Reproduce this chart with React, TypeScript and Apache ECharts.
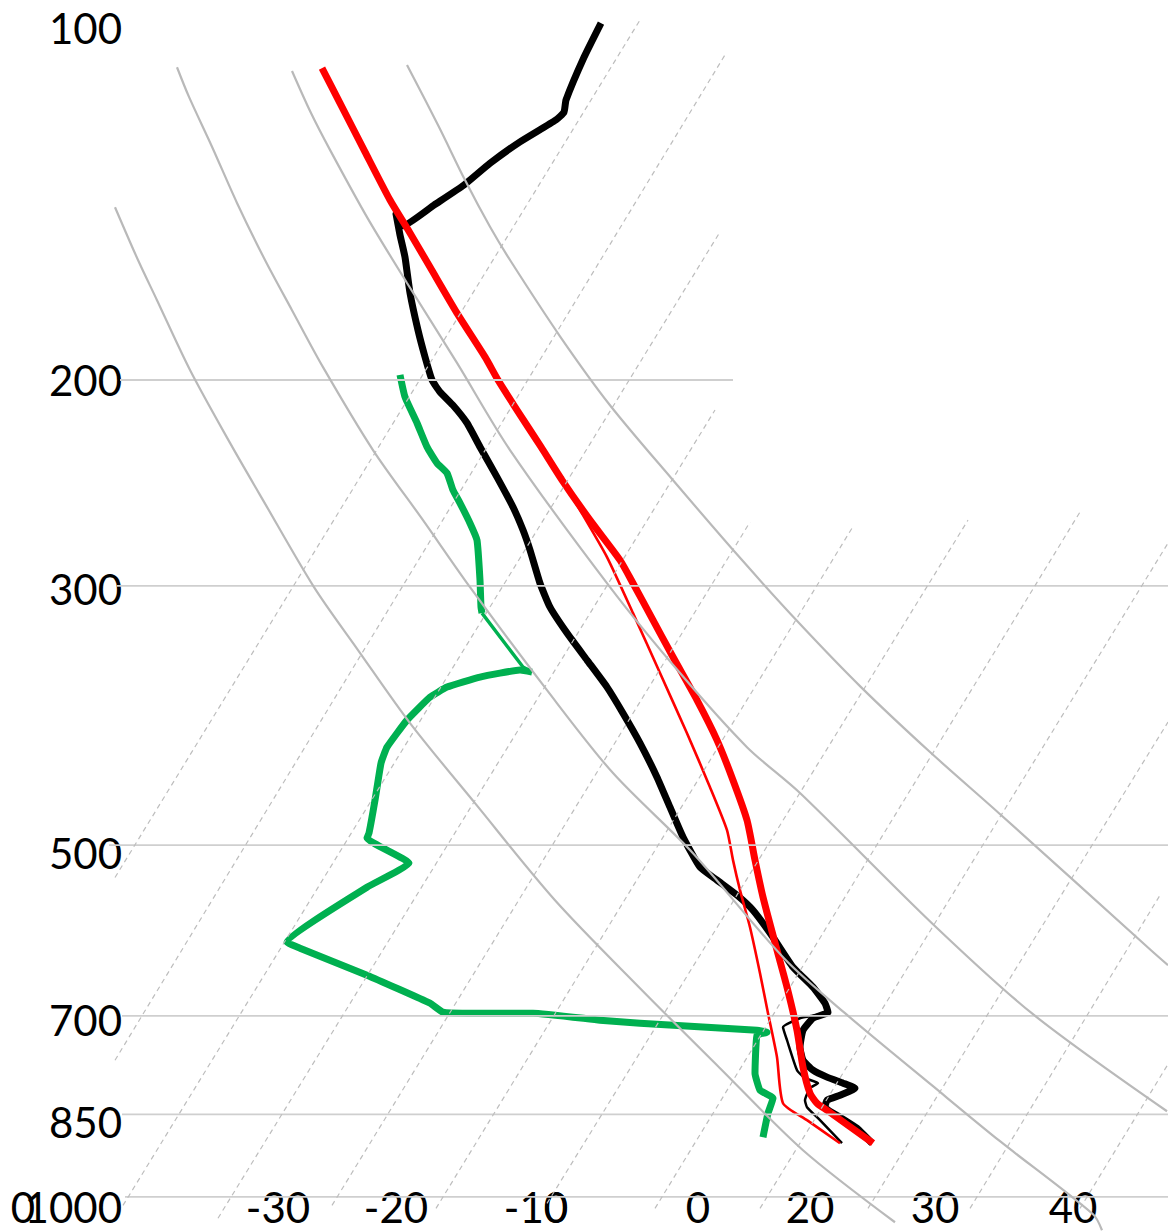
import React, { useEffect, useRef } from "react";
import * as echarts from "echarts";

// Skew-T style sounding diagram.
// x: skewed temperature index of the diagram, y: pressure in hPa (log scale, 100 at top).

type Pt = [number, number];

const pressureTicks = [100, 200, 300, 500, 700, 850, 1000];
// small downward nudges of the pressure labels (px)
const pressureLabelNudge = [0, 0, 3, 8, 4, 8, 10];
const skewTickPos = [-57.7, -32.2, -20.4, -6.4, -4.4, 9.8, 21.0, 33.5, 47.3];
const skewTickText = ["0", "-30", "-20", "-10", "0", "0", "20", "30", "40"];

// horizontal isobars and their extents
const isobarLevels = [200, 300, 500, 700, 850, 1000];
const isobarFrom = [-48, -48.3, -49.1, -47.8, -47.8, -47.5];
const isobarTo = [13.3, 56.8, 56.8, 56.8, 56.8, 56.8];

// isotherms (dashed), each from its lower to its upper end
const isotherms: Pt[][] = [
  [[-48.5, 533], [4.0, 98.4]],
  [[-48.5, 764], [12.5, 105.4]],
  [[-47.7, 1017], [12.0, 149.4]],
  [[-38.2, 1043], [11.5, 212.2]],
  [[-26.8, 1017], [15.0, 264.6]],
  [[-16.4, 1023], [25.2, 267.8]],
  [[-5.3, 1013], [36.8, 263.6]],
  [[5.5, 1023], [48.0, 259.4]],
  [[16.0, 1023], [56.8, 275.8]],
  [[26.8, 1023], [56.8, 392.4]],
  [[37.0, 1023], [56.0, 551.9]],
  [[48.0, 1023], [56.8, 770]],
];

// dry adiabats (solid grey curves)
const adiabatA: Pt[] = [
  [-48.5, 142.3], [-46.2, 157.9], [-44.3, 170.9], [-41.0, 196.1], [-37.0, 226.4],
  [-33.7, 253.4], [-28.6, 300.8], [-24.2, 340.5], [-19.0, 393.2], [-12.5, 460.4],
  [-4.5, 557.4], [4.0, 662.9], [12.0, 776.1], [20.3, 912.2], [29.5, 1051.3],
];
const adiabatB: Pt[] = [
  [-42.3, 108.0], [-41.1, 114.5], [-38.8, 126.3], [-36.3, 141.1], [-33.5, 157.9],
  [-30.8, 174.3], [-27.7, 195.0], [-22.7, 229.6], [-17.7, 263.6], [-13.0, 300.8],
  [-5.3, 368.5], [1.3, 433.9], [9.3, 508.1], [18.4, 624.9], [24.5, 696.4],
  [33.3, 804.1], [40.0, 896.2], [49.3, 1034.9], [50.2, 1068],
];
const adiabatC: Pt[] = [
  [-30.8, 108.8], [-28.9, 118.2], [-27.0, 127.1], [-23.3, 145.1], [-19.3, 165.2],
  [-14.3, 193.4], [-9.0, 229.6], [1.0, 300.8], [8.0, 356.3], [14.7, 412.3],
  [20.0, 451.3], [33.3, 584.4], [43.3, 697.8], [56.7, 844.8],
];
const adiabatD: Pt[] = [
  [-19.3, 107.5], [-16.1, 121.5], [-13.5, 134.9], [-11.0, 147.9], [-9.0, 157.9],
  [-4.0, 183.5], [1.0, 210.2], [7.2, 243.1], [14.2, 285.2], [20.0, 323.5],
  [26.1, 366.3], [33.0, 416.3], [39.9, 469.6], [55.1, 615.1], [56.8, 633.5],
];

// observed temperature profile (thick black)
const temperature: Pt[] = [
  [0.1, 99.0], [-1.6, 105.9], [-3.4, 115.2], [-3.6, 118.0], [-4.4, 119.8],
  [-8.0, 125.1], [-11.0, 130.5], [-13.6, 136.2], [-16.6, 141.7], [-19.7, 147.6],
  [-20.4, 144.2], [-20.0, 150.3], [-19.5, 157.0], [-19.0, 168.5], [-18.2, 181.3],
  [-17.5, 191.1], [-16.8, 200.0], [-16.0, 204.8], [-14.7, 210.2], [-13.3, 217.7],
  [-12.0, 228.2], [-10.3, 242.2], [-8.7, 256.9], [-7.7, 268.8], [-7.0, 279.6],
  [-6.0, 298.5], [-5.0, 312.9], [-3.3, 329.3], [-1.3, 347.3], [0.7, 366.3],
  [2.3, 385.6], [4.0, 409.0], [5.7, 437.4], [7.0, 464.1], [8.3, 492.2],
  [10.0, 522.3], [11.7, 535.8], [13.7, 551.9], [15.3, 568.5], [17.3, 599.5],
  [19.3, 636.0], [21.3, 661.6], [22.5, 682.8], [22.8, 695.0], [21.3, 703.3],
  [20.3, 720.1], [20.0, 744.6], [20.3, 764.0], [21.3, 779.1], [22.7, 789.9],
  [24.3, 799.3], [25.5, 807.2], [24.0, 818.5], [22.7, 826.6], [22.5, 838.1],
  [24.0, 854.8], [25.7, 873.5], [27.2, 899.7],
];

// second temperature trace (thin black)
const temperatureAlt: Pt[] = [
  [8.3, 492.2], [10.0, 522.3], [11.7, 535.8], [13.7, 551.9], [15.3, 568.5],
  [17.3, 599.5], [19.3, 636.0], [21.3, 661.6], [22.5, 682.8], [22.8, 695.0],
  [20.0, 703.3], [18.3, 715.8], [18.7, 734.4], [19.7, 779.1], [20.5, 791.5],
  [21.8, 799.3], [21.0, 807.2], [20.5, 826.6], [20.7, 838.1], [22.0, 859.8],
  [24.2, 899.7],
];

// dew point profile (green)
const dewpointUpper: Pt[] = [
  [-20.0, 198.0], [-19.5, 206.8], [-18.3, 217.7], [-17.3, 228.2], [-16.3, 235.6],
  [-15.3, 240.3], [-14.7, 248.5], [-14.0, 254.9], [-13.0, 265.2], [-12.3, 274.2],
  [-12.0, 296.7], [-11.9, 312.9], [-11.8, 316.6],
];
const dewpointLink: Pt[] = [[-11.8, 316.6], [-7.7, 352.1], [-6.8, 355.6]];
const dewpointLower: Pt[] = [
  [-6.8, 355.6], [-8.0, 354.2], [-12.0, 359.1], [-15.3, 366.3], [-17.0, 373.6],
  [-19.3, 390.9], [-21.3, 412.3], [-21.9, 425.5], [-22.5, 457.7], [-23.1, 488.4],
  [-23.3, 493.2], [-19.1, 518.1], [-23.3, 543.3], [-31.3, 605.5], [-30.0, 612.7],
  [-23.3, 646.1], [-17.0, 682.8], [-15.7, 695.0], [-13.3, 696.4], [-6.7, 696.4],
  [0.0, 706.0], [4.0, 710.2], [15.7, 720.1], [16.7, 723.0], [15.7, 727.2],
  [15.5, 783.7], [16.0, 810.5], [17.3, 823.4], [16.8, 848.1], [16.3, 889.1],
];

// lifted parcel (thick red) and its second trace (thin red)
const parcel: Pt[] = [
  [-27.8, 108.2], [-26.0, 115.9], [-23.5, 127.6], [-21.0, 140.3], [-19.0, 149.7],
  [-17.0, 160.1], [-14.3, 175.3], [-11.5, 191.1], [-10.2, 200.0], [-8.3, 212.2],
  [-5.9, 228.2], [-3.8, 243.6], [-1.0, 263.6], [2.0, 285.2], [3.3, 298.5],
  [5.3, 321.0], [7.3, 345.2], [9.7, 375.8], [11.7, 406.6], [13.3, 440.0],
  [14.7, 476.1], [15.5, 515.1], [16.3, 554.1], [17.7, 615.1], [18.7, 661.6],
  [19.7, 720.1], [20.3, 774.6], [21.0, 815.3], [21.7, 831.5], [22.7, 843.1],
  [27.3, 899.7],
];
const parcelAlt: Pt[] = [
  [-5.9, 228.2], [-3.8, 243.6], [-2.0, 258.4], [0.7, 283.5], [3.3, 316.6],
  [6.0, 356.3], [8.7, 401.1], [11.0, 446.1], [12.7, 485.5], [13.3, 515.1],
  [14.0, 546.5], [15.0, 587.9], [16.0, 643.6], [16.8, 696.4], [17.7, 759.5],
  [18.3, 831.5], [20.7, 859.8], [24.0, 899.7],
];

const FONT = "Lato, 'Open Sans', sans-serif";
const LABEL_SIZE = 42;

function lineSeries(name: string, data: Pt[], color: string, width: number, z: number, extra: any = {}, smooth: number | boolean = false) {
  return {
    type: "line",
    name,
    data,
    smooth,
    showSymbol: false,
    symbol: "none",
    silent: true,
    clip: false,
    z,
    lineStyle: { color, width, ...extra },
  };
}

function buildOption() {
  const series: any[] = [];
  const thick = 7;

  series.push(lineSeries("temperature", temperature, "#000000", thick, 2, { join: "round" }, 0.15));
  series.push(lineSeries("temperature 2", temperatureAlt, "#000000", 2.5, 2, {}, 0.15));
  series.push(lineSeries("parcel", parcel, "#ff0000", thick, 2, { join: "round" }, 0.2));
  series.push(lineSeries("parcel 2", parcelAlt, "#ff0000", 2.6, 2, {}, 0.2));
  series.push(lineSeries("dew point", dewpointUpper, "#00b050", thick, 2, { join: "round" }, 0.15));
  series.push(lineSeries("dew point link", dewpointLink, "#00b050", 3.4, 2));
  series.push(lineSeries("dew point low", dewpointLower, "#00b050", thick, 2, { join: "round" }, 0.12));

  isobarLevels.forEach((p, i) => {
    series.push(lineSeries("isobar " + p, [[isobarFrom[i], p], [isobarTo[i], p]], "#cfcfcf", 1.8, 3));
  });
  isotherms.forEach((seg, i) => {
    series.push(lineSeries("isotherm " + i, seg, "#bdbdbd", 1.2, 3, { type: [5, 4] }));
  });
  [adiabatA, adiabatB, adiabatC, adiabatD].forEach((curve, i) => {
    series.push(lineSeries("adiabat " + i, curve, "#b9b9b9", 2.2, 3, {}, 0.3));
  });

  const rich: any = {};
  pressureTicks.forEach((_, i) => {
    rich["p" + i] = {
      fontSize: LABEL_SIZE,
      fontFamily: FONT,
      color: "#000000",
      padding: [pressureLabelNudge[i] * 2, 0, 0, 0],
    };
  });

  return {
    animation: false,
    backgroundColor: "#ffffff",
    grid: { left: 0, right: 0, top: 0, bottom: 0, containLabel: false },
    xAxis: {
      type: "value",
      min: -60,
      max: 56.8,
      axisLine: { show: false },
      axisTick: { show: false },
      splitLine: { show: false },
      axisLabel: {
        inside: true,
        customValues: skewTickPos,
        margin: 25,
        verticalAlign: "middle",
        fontSize: LABEL_SIZE,
        fontFamily: FONT,
        color: "#000000",
        formatter: (v: number) => {
          const i = skewTickPos.findIndex((t) => Math.abs(t - v) < 1e-6);
          return i >= 0 ? skewTickText[i] : "";
        },
      },
    },
    yAxis: {
      type: "log",
      logBase: 10,
      inverse: true,
      min: 94.6,
      max: 1071.7,
      axisLine: { show: false },
      axisTick: { show: false },
      splitLine: { show: false },
      axisLabel: {
        customValues: pressureTicks,
        margin: -122,
        fontSize: LABEL_SIZE,
        fontFamily: FONT,
        color: "#000000",
        formatter: (v: number) => {
          const r = Math.round(v);
          const i = pressureTicks.indexOf(r);
          return i >= 0 ? `{p${i}|${r}}` : String(r);
        },
        rich,
      },
    },
    series,
  };
}

export default function App() {
  const ref = useRef<HTMLDivElement>(null);
  useEffect(() => {
    if (!ref.current) return;
    const chart = echarts.init(ref.current, undefined, { renderer: "svg" });
    chart.setOption(buildOption() as any);
    return () => chart.dispose();
  }, []);
  return (
    <div
      ref={ref}
      style={{ position: "absolute", left: 0, top: 0, width: 1168, height: 1232, background: "#ffffff" }}
    />
  );
}
